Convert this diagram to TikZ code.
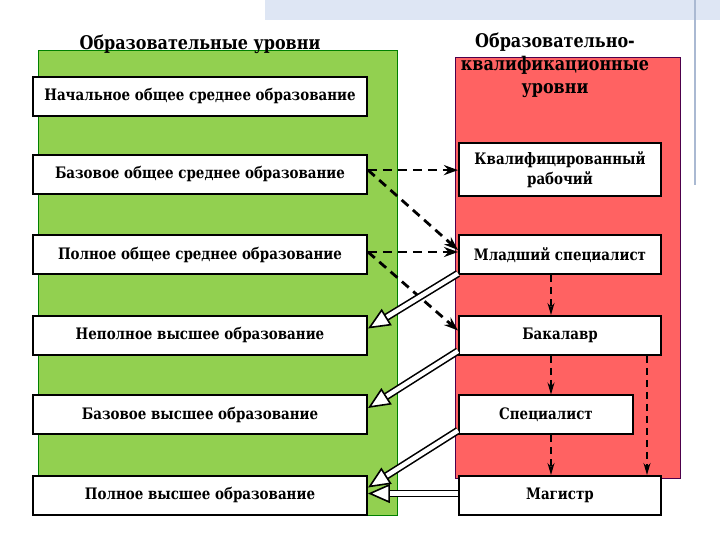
\documentclass[tikz,border=0pt]{standalone}
\usepackage{fontspec}
\setmainfont[FakeStretch=0.85]{DejaVu Serif}
\usetikzlibrary{arrows.meta}

\definecolor{levelgreen}{RGB}{146,208,80}
\definecolor{levelred}{RGB}{255,98,98}
\definecolor{bandblue}{RGB}{222,230,244}
\definecolor{ruleblue}{RGB}{170,185,210}

\tikzset{
  levelbox/.style={draw,black,fill=white,line width=1pt,inner sep=1pt,
    font=\fontsize{7.9}{10}\selectfont\bfseries,minimum height=19.5pt},
  leftbox/.style={levelbox,minimum width=167pt},
  rightbox/.style={levelbox,minimum width=101pt,align=center},
  title/.style={font=\fontsize{9.4}{11.5}\selectfont\bfseries,align=center},
  dasharrow/.style={line width=1.4pt,dash pattern=on 4.5pt off 3pt,
    -{Stealth[length=7pt,width=5pt]}},
  thinarrow/.style={line width=0.7pt,dash pattern=on 3.5pt off 2.5pt,
    -{Stealth[length=6pt,width=3.5pt]}},
  hollowarrow/.style={line width=0.8pt,double=white,double distance=2.2pt,
    -{Triangle[open,fill=white,length=11pt,width=9.5pt]}}
}

\begin{document}
\begin{tikzpicture}[x=0.5pt,y=-0.5pt]
\useasboundingbox (0,0) rectangle (720,540);

% decoration
\fill[bandblue] (265,0) rectangle (720,20);
\draw[ruleblue,line width=0.6pt] (695,0) -- (695,185);

% panels
\draw[fill=levelgreen,draw=black!50!green,line width=0.3pt] (38,50) rectangle (397,515);
\draw[fill=levelred,draw=violet!60!black,line width=0.3pt] (455,57) rectangle (680,478);

% titles
\node[title] (tl) at (200,44) {Образовательные уровни};
\node[title] (tr) at (555,65) {Образовательно-\\квалификационные\\уровни};

% educational levels
\node[leftbox] (l1) at (200,96.5) {Начальное общее среднее образование};
\node[leftbox] (l2) at (200,174.5) {Базовое общее среднее образование};
\node[leftbox] (l3) at (200,255) {Полное общее среднее образование};
\node[leftbox] (l4) at (200,335.5) {Неполное высшее образование};
\node[leftbox] (l5) at (200,415) {Базовое высшее образование};
\node[leftbox] (l6) at (200,495.5) {Полное высшее образование};

% qualification levels
\node[rightbox,minimum height=26.5pt] (r1) at (560,169.5) {Квалифицированный\\рабочий};
\node[rightbox] (r2) at (560,255) {Младший специалист};
\node[rightbox] (r3) at (560,335.5) {Бакалавр};
\node[rightbox,minimum width=87pt] (r4) at (546,415) {Специалист};
\node[rightbox] (r5) at (560,495.5) {Магистр};

% dashed links
\coordinate (s2) at ([yshift=2.2pt]l2.east);
\coordinate (s3) at ([yshift=1.5pt]l3.east);
\draw[dasharrow] (s2) -- (s2 -| r1.west);
\draw[dasharrow] (s2) -- ([yshift=2.5pt]r2.west);
\draw[dasharrow] (s3) -- (s3 -| r2.west);
\draw[dasharrow] (s3) -- ([yshift=2.5pt]r3.west);

% downward links
\coordinate (d2) at ([xshift=-4.5pt]r2.south);
\coordinate (d3) at ([xshift=-4.5pt]r3.south);
\coordinate (d4) at (r4.south -| d3);
\coordinate (e3) at ([xshift=-7.5pt]r3.south east);
\draw[thinarrow] (d2) -- (d2 |- r3.north);
\draw[thinarrow] (d3) -- (d3 |- r4.north);
\draw[thinarrow] (d4) -- (d4 |- r5.north);
\draw[thinarrow] (e3) -- (e3 |- r5.north);

% hollow arrows
\draw[hollowarrow] ([yshift=1pt]r2.south west) -- ([yshift=3.5pt]l4.east);
\draw[hollowarrow] ([yshift=2.5pt]r3.south west) -- ([yshift=3.5pt]l5.east);
\draw[hollowarrow] ([yshift=2.5pt]r4.south west) -- ([yshift=4pt]l6.east);
\draw[hollowarrow] ([yshift=1pt]r5.west) -- ([yshift=1pt]l6.east);
\end{tikzpicture}
\end{document}
